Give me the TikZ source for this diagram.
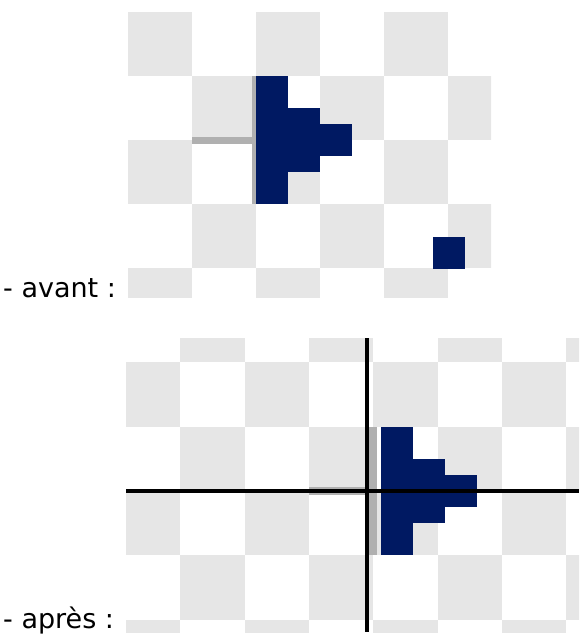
\documentclass[tikz,border=0pt]{standalone}
\usepackage{fontspec}
\setmainfont{DejaVu Sans}
\usetikzlibrary{positioning}
\definecolor{cellgray}{RGB}{230,230,230}
\definecolor{spritenavy}{RGB}{0,25,98}
\definecolor{origingray}{RGB}{176,176,176}

\begin{document}
\begin{tikzpicture}[x=1pt,y=-1pt,
    phase/.style={anchor=base west, inner sep=0pt, font=\fontsize{27}{32}\selectfont},
    cell/.style={fill=cellgray},
    sprite/.style={fill=spritenavy},
    origin/.style={fill=origingray},
    axis/.style={draw=black, line width=4pt}
]
    \useasboundingbox (0,0) rectangle (579,635);

    % Before: checkerboard
    \begin{scope}
        \clip (128,12) rectangle (491,297);
        \foreach \i in {0,...,5}
            \foreach \j in {0,...,4} {
                \pgfmathtruncatemacro\cellodd{mod(\i+\j,2)}
                \ifnum\cellodd=0
                    \fill[cell] (128+64*\i,12+64*\j) rectangle ++(64,64);
                \fi
            }
    \end{scope}

    % Before: origin marker
    \fill[origin] (192,137) rectangle (252,144);
    \fill[origin] (252,76) rectangle (256,204);

    % Before: sprite
    \fill[sprite] (256,76) rectangle (288,204);
    \fill[sprite] (288,108) rectangle (320,172);
    \fill[sprite] (320,124) rectangle (352,156);
    \fill[sprite] (433,237) rectangle (465,269);

    % After: checkerboard
    \begin{scope}
        \clip (126,338) rectangle (579,632);
        \foreach \i in {0,...,7}
            \foreach \j in {0,...,5} {
                \pgfmathtruncatemacro\cellodd{mod(\i+\j,2)}
                \ifnum\cellodd=1
                    \fill[cell] (116+64.3*\i,298+64.3*\j) rectangle ++(64.3,64.3);
                \fi
            }
    \end{scope}

    % After: origin marker
    \fill[origin] (309,487) rectangle (367,495);
    \fill[origin] (366,427) rectangle (377,555);

    % After: sprite
    \fill[sprite] (381,427) rectangle (413,555);
    \fill[sprite] (413,459) rectangle (445,523);
    \fill[sprite] (445,475) rectangle (477,507);

    % After: axes
    \coordinate (xleft) at (126,491);
    \coordinate (xright) at (579,491);
    \coordinate (ytop) at (367,338);
    \coordinate (ybottom) at (367,632);
    \draw[axis] (xleft) -- (xright);
    \draw[axis] (ytop) -- (ybottom);

    % Labels
    \node[phase] (avant) at (3,297) {- avant :};
    \node[phase] (apres) at (3,628) {- après :};
\end{tikzpicture}
\end{document}
